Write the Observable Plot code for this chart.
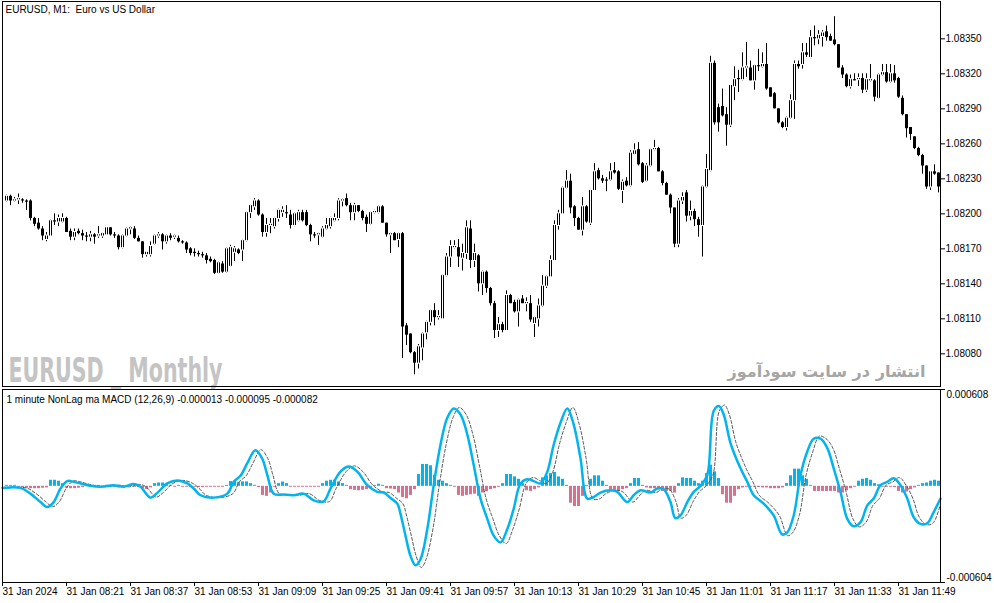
<!DOCTYPE html>
<html>
<head>
<meta charset="utf-8">
<script src="https://cdn.jsdelivr.net/npm/d3@7"></script>
<script src="https://cdn.jsdelivr.net/npm/@observablehq/plot@0.6"></script>
<style>
  html, body { margin: 0; padding: 0; background: #fff; }
  #chart { width: 994px; height: 603px; overflow: hidden; }
  #chart svg { display: block; }
</style>
</head>
<body>
<div id="chart"></div>
<script>
// ---------- texts ----------
const chartTitle = "EURUSD, M1:\u00a0 Euro vs US Dollar";
const indicatorTitle = "1 minute NonLag ma MACD (12,26,9) -0.000013 -0.000095 -0.000082";
const watermarkLeft = "EURUSD _ Monthly";
const watermarkRight = "انتشار در سایت سودآموز";

// ---------- axes ----------
const tickBars = [-1, 15, 31, 47, 63, 79, 95, 111, 127, 143, 159, 175, 191, 207, 223];
const tickLabels = ["31 Jan 2024", "31 Jan 08:21", "31 Jan 08:37", "31 Jan 08:53", "31 Jan 09:09",
  "31 Jan 09:25", "31 Jan 09:41", "31 Jan 09:57", "31 Jan 10:13", "31 Jan 10:29", "31 Jan 10:45",
  "31 Jan 11:01", "31 Jan 11:17", "31 Jan 11:33", "31 Jan 11:49"];
const priceTicks = [1.0835, 1.0832, 1.0829, 1.0826, 1.0823, 1.082, 1.0817, 1.0814, 1.0811, 1.0808];
const macdTicks = [0.000608, -0.000604];

// ---------- candles (M1 bars, one per minute) ----------
const open = [
1.08211,1.08215,1.08211,1.08212,1.08212,1.08211,1.08211,1.08196,1.08192,1.08187,
1.08178,1.08181,1.08194,1.08193,1.08193,1.08196,1.08185,1.08180,1.08185,1.08183,
1.08181,1.08180,1.08182,1.08181,1.08181,1.08182,1.08188,1.08182,1.08181,1.08171,
1.08181,1.08187,1.08187,1.08179,1.08176,1.08165,1.08165,1.08174,1.08181,1.08182,
1.08176,1.08181,1.08180,1.08179,1.08176,1.08175,1.08170,1.08167,1.08166,1.08165,
1.08164,1.08161,1.08160,1.08149,1.08157,1.08150,1.08155,1.08167,1.08169,1.08169,
1.08177,1.08201,1.08206,1.08211,1.08199,1.08184,1.08190,1.08189,1.08196,1.08201,
1.08201,1.08199,1.08190,1.08194,1.08201,1.08201,1.08190,1.08182,1.08182,1.08180,
1.08187,1.08189,1.08194,1.08196,1.08211,1.08213,1.08207,1.08201,1.08207,1.08202,
1.08197,1.08191,1.08201,1.08201,1.08206,1.08192,1.08182,1.08183,1.08178,1.08183,
1.08104,1.08097,1.08081,1.08072,1.08085,1.08098,1.08107,1.08117,1.08111,1.08110,
1.08147,1.08163,1.08171,1.08171,1.08162,1.08166,1.08187,1.08160,1.08164,1.08140,
1.08150,1.08136,1.08123,1.08100,1.08105,1.08100,1.08130,1.08124,1.08116,1.08127,
1.08123,1.08123,1.08106,1.08110,1.08121,1.08138,1.08146,1.08160,1.08190,1.08200,
1.08222,1.08228,1.08206,1.08196,1.08186,1.08206,1.08192,1.08220,1.08237,1.08230,
1.08229,1.08229,1.08237,1.08236,1.08220,1.08228,1.08224,1.08251,1.08255,1.08243,
1.08228,1.08241,1.08255,1.08256,1.08236,1.08226,1.08216,1.08205,1.08174,1.08211,
1.08218,1.08198,1.08202,1.08195,1.08190,1.08223,1.08237,1.08329,1.08291,1.08292,
1.08285,1.08276,1.08309,1.08316,1.08315,1.08325,1.08325,1.08314,1.08327,1.08326,
1.08328,1.08308,1.08303,1.08290,1.08278,1.08274,1.08282,1.08297,1.08328,1.08328,
1.08338,1.08334,1.08351,1.08350,1.08352,1.08356,1.08352,1.08349,1.08345,1.08325,
1.08319,1.08309,1.08315,1.08315,1.08316,1.08306,1.08314,1.08314,1.08299,1.08319,
1.08321,1.08313,1.08320,1.08316,1.08299,1.08285,1.08274,1.08266,1.08256,1.08250,
1.08241,1.08223,1.08236,1.08235];
const high = [
1.08216,1.08216,1.08214,1.08217,1.08213,1.08212,1.08212,1.08197,1.08196,1.08189,
1.08184,1.08195,1.08200,1.08199,1.08200,1.08197,1.08187,1.08187,1.08187,1.08186,
1.08184,1.08185,1.08183,1.08189,1.08184,1.08188,1.08188,1.08184,1.08182,1.08182,
1.08188,1.08189,1.08189,1.08181,1.08176,1.08167,1.08176,1.08182,1.08184,1.08183,
1.08182,1.08183,1.08182,1.08181,1.08177,1.08176,1.08171,1.08170,1.08168,1.08167,
1.08166,1.08163,1.08161,1.08159,1.08159,1.08171,1.08173,1.08172,1.08170,1.08178,
1.08202,1.08208,1.08213,1.08212,1.08200,1.08196,1.08196,1.08197,1.08204,1.08206,
1.08207,1.08203,1.08201,1.08203,1.08203,1.08203,1.08191,1.08184,1.08184,1.08189,
1.08196,1.08197,1.08200,1.08213,1.08213,1.08217,1.08209,1.08209,1.08207,1.08203,
1.08199,1.08202,1.08203,1.08207,1.08207,1.08192,1.08184,1.08184,1.08184,1.08184,
1.08106,1.08097,1.08082,1.08088,1.08098,1.08108,1.08118,1.08123,1.08117,1.08148,
1.08166,1.08177,1.08177,1.08178,1.08174,1.08194,1.08194,1.08174,1.08165,1.08151,
1.08151,1.08137,1.08125,1.08111,1.08107,1.08134,1.08131,1.08126,1.08127,1.08130,
1.08128,1.08130,1.08112,1.08127,1.08147,1.08147,1.08164,1.08194,1.08203,1.08223,
1.08237,1.08234,1.08207,1.08197,1.08214,1.08207,1.08221,1.08243,1.08239,1.08233,
1.08231,1.08243,1.08244,1.08237,1.08229,1.08231,1.08254,1.08260,1.08261,1.08244,
1.08243,1.08256,1.08263,1.08257,1.08237,1.08227,1.08217,1.08205,1.08213,1.08218,
1.08220,1.08211,1.08204,1.08197,1.08224,1.08251,1.08335,1.08331,1.08294,1.08307,
1.08291,1.08310,1.08326,1.08323,1.08338,1.08347,1.08331,1.08328,1.08341,1.08338,
1.08346,1.08308,1.08304,1.08290,1.08279,1.08283,1.08302,1.08331,1.08331,1.08346,
1.08346,1.08357,1.08361,1.08357,1.08357,1.08361,1.08354,1.08369,1.08345,1.08327,
1.08320,1.08319,1.08320,1.08320,1.08320,1.08320,1.08328,1.08315,1.08320,1.08328,
1.08328,1.08328,1.08327,1.08317,1.08301,1.08285,1.08274,1.08266,1.08257,1.08251,
1.08241,1.08236,1.08242,1.08235];
const low = [
1.08210,1.08207,1.08210,1.08208,1.08209,1.08203,1.08194,1.08189,1.08186,1.08177,
1.08176,1.08181,1.08190,1.08189,1.08192,1.08184,1.08177,1.08177,1.08182,1.08177,
1.08176,1.08176,1.08174,1.08179,1.08179,1.08182,1.08181,1.08179,1.08169,1.08170,
1.08180,1.08182,1.08178,1.08176,1.08162,1.08163,1.08163,1.08173,1.08179,1.08169,
1.08174,1.08177,1.08178,1.08175,1.08174,1.08166,1.08164,1.08163,1.08163,1.08162,
1.08157,1.08158,1.08148,1.08148,1.08149,1.08149,1.08154,1.08159,1.08165,1.08159,
1.08176,1.08196,1.08203,1.08198,1.08180,1.08180,1.08183,1.08187,1.08193,1.08197,
1.08196,1.08187,1.08189,1.08193,1.08193,1.08189,1.08176,1.08179,1.08173,1.08179,
1.08186,1.08187,1.08193,1.08194,1.08206,1.08206,1.08194,1.08194,1.08201,1.08194,
1.08184,1.08190,1.08200,1.08200,1.08192,1.08180,1.08166,1.08177,1.08171,1.08076,
1.08087,1.08080,1.08062,1.08067,1.08074,1.08092,1.08104,1.08104,1.08109,1.08110,
1.08146,1.08154,1.08170,1.08154,1.08151,1.08161,1.08153,1.08154,1.08133,1.08130,
1.08132,1.08121,1.08093,1.08094,1.08098,1.08100,1.08123,1.08115,1.08103,1.08123,
1.08116,1.08107,1.08094,1.08103,1.08120,1.08136,1.08146,1.08160,1.08186,1.08200,
1.08221,1.08200,1.08189,1.08186,1.08181,1.08192,1.08190,1.08220,1.08229,1.08226,
1.08219,1.08228,1.08234,1.08220,1.08209,1.08223,1.08223,1.08250,1.08241,1.08226,
1.08227,1.08240,1.08254,1.08236,1.08224,1.08216,1.08200,1.08171,1.08171,1.08208,
1.08193,1.08194,1.08189,1.08180,1.08163,1.08222,1.08236,1.08276,1.08270,1.08283,
1.08258,1.08274,1.08297,1.08304,1.08314,1.08317,1.08314,1.08306,1.08322,1.08325,
1.08306,1.08300,1.08290,1.08277,1.08273,1.08271,1.08281,1.08281,1.08324,1.08324,
1.08334,1.08333,1.08344,1.08345,1.08343,1.08348,1.08348,1.08344,1.08325,1.08316,
1.08308,1.08307,1.08314,1.08309,1.08303,1.08304,1.08313,1.08296,1.08298,1.08318,
1.08312,1.08312,1.08312,1.08299,1.08284,1.08265,1.08263,1.08255,1.08249,1.08234,
1.08221,1.08220,1.08233,1.08218];
const close = [
1.08215,1.08211,1.08212,1.08213,1.08211,1.08210,1.08196,1.08191,1.08187,1.08181,
1.08181,1.08194,1.08193,1.08196,1.08196,1.08184,1.08180,1.08184,1.08183,1.08181,
1.08180,1.08182,1.08180,1.08182,1.08183,1.08188,1.08182,1.08181,1.08171,1.08181,
1.08187,1.08188,1.08179,1.08176,1.08165,1.08167,1.08172,1.08181,1.08182,1.08176,
1.08181,1.08179,1.08181,1.08176,1.08175,1.08169,1.08166,1.08166,1.08165,1.08164,
1.08160,1.08159,1.08149,1.08158,1.08150,1.08170,1.08171,1.08170,1.08166,1.08177,
1.08201,1.08207,1.08211,1.08199,1.08184,1.08190,1.08191,1.08196,1.08203,1.08203,
1.08200,1.08190,1.08200,1.08201,1.08194,1.08190,1.08182,1.08181,1.08183,1.08187,
1.08190,1.08196,1.08196,1.08211,1.08212,1.08207,1.08201,1.08207,1.08202,1.08196,
1.08191,1.08201,1.08202,1.08206,1.08192,1.08182,1.08183,1.08177,1.08183,1.08103,
1.08096,1.08081,1.08072,1.08086,1.08097,1.08107,1.08117,1.08111,1.08112,1.08147,
1.08163,1.08172,1.08172,1.08163,1.08166,1.08188,1.08160,1.08166,1.08140,1.08150,
1.08136,1.08123,1.08100,1.08105,1.08100,1.08130,1.08123,1.08116,1.08126,1.08123,
1.08124,1.08109,1.08111,1.08121,1.08138,1.08146,1.08160,1.08190,1.08200,1.08222,
1.08228,1.08205,1.08196,1.08186,1.08206,1.08193,1.08220,1.08236,1.08230,1.08228,
1.08228,1.08236,1.08235,1.08221,1.08227,1.08224,1.08252,1.08254,1.08242,1.08227,
1.08241,1.08255,1.08256,1.08236,1.08226,1.08216,1.08205,1.08174,1.08211,1.08214,
1.08198,1.08202,1.08195,1.08190,1.08223,1.08238,1.08329,1.08278,1.08278,1.08284,
1.08276,1.08310,1.08315,1.08315,1.08325,1.08326,1.08314,1.08327,1.08326,1.08328,
1.08307,1.08300,1.08290,1.08278,1.08274,1.08282,1.08297,1.08328,1.08326,1.08338,
1.08336,1.08351,1.08350,1.08353,1.08355,1.08351,1.08348,1.08345,1.08325,1.08319,
1.08309,1.08315,1.08314,1.08316,1.08306,1.08315,1.08315,1.08300,1.08319,1.08321,
1.08313,1.08320,1.08314,1.08300,1.08285,1.08273,1.08268,1.08256,1.08250,1.08241,
1.08223,1.08236,1.08234,1.08223];

// ---------- NonLag MACD indicator ----------
const histogram = [
6e-6,6e-6,6e-6,-6e-6,-8e-6,-12e-6,-15e-6,-15e-6,-15e-6,-12e-6,
-10e-6,38e-6,38e-6,32e-6,17e-6,-12e-6,-15e-6,-15e-6,-12e-6,-8e-6,
6e-6,-6e-6,6e-6,6e-6,-6e-6,6e-6,-6e-6,-6e-6,-10e-6,-6e-6,
6e-6,6e-6,-6e-6,-8e-6,-15e-6,-20e-6,-10e-6,17e-6,21e-6,21e-6,
13e-6,6e-6,-6e-6,6e-6,-6e-6,-6e-6,-6e-6,-6e-6,-8e-6,-8e-6,
-6e-6,-6e-6,-6e-6,-6e-6,-6e-6,6e-6,30e-6,32e-6,23e-6,28e-6,
28e-6,17e-6,6e-6,-8e-6,-57e-6,-63e-6,-42e-6,-6e-6,17e-6,27e-6,
17e-6,-6e-6,-6e-6,-6e-6,-6e-6,-6e-6,-6e-6,-6e-6,-6e-6,17e-6,
32e-6,38e-6,38e-6,28e-6,17e-6,6e-6,-21e-6,-25e-6,-28e-6,-25e-6,
-21e-6,-10e-6,6e-6,13e-6,6e-6,-15e-6,-17e-6,-21e-6,-42e-6,-70e-6,
-78e-6,-57e-6,-21e-6,74e-6,137e-6,137e-6,129e-6,70e-6,38e-6,32e-6,
17e-6,6e-6,-6e-6,-57e-6,-63e-6,-57e-6,-53e-6,-49e-6,-63e-6,-42e-6,
-34e-6,-21e-6,-15e-6,-6e-6,17e-6,74e-6,74e-6,59e-6,44e-6,17e-6,
-28e-6,-32e-6,-21e-6,-10e-6,53e-6,66e-6,80e-6,87e-6,59e-6,44e-6,
6e-6,-106e-6,-127e-6,-127e-6,-63e-6,6e-6,44e-6,66e-6,66e-6,32e-6,
6e-6,-21e-6,-32e-6,-32e-6,-21e-6,-15e-6,17e-6,49e-6,49e-6,6e-6,
-10e-6,-15e-6,-15e-6,-21e-6,-32e-6,-32e-6,-32e-6,-42e-6,17e-6,53e-6,
49e-6,49e-6,32e-6,17e-6,32e-6,80e-6,133e-6,91e-6,49e-6,-53e-6,
-106e-6,-106e-6,-63e-6,-21e-6,-10e-6,-6e-6,-6e-6,-6e-6,-8e-6,-10e-6,
-10e-6,-15e-6,-15e-6,-15e-6,-10e-6,17e-6,66e-6,108e-6,108e-6,66e-6,
44e-6,6e-6,-32e-6,-32e-6,-32e-6,-32e-6,-32e-6,-32e-6,-42e-6,-42e-6,
-28e-6,-15e-6,-6e-6,32e-6,44e-6,49e-6,38e-6,17e-6,10e-6,-6e-6,
-6e-6,-6e-6,-8e-6,-32e-6,-42e-6,-36e-6,-21e-6,-10e-6,6e-6,17e-6,
21e-6,32e-6,38e-6,32e-6];

// MACD line: [bar, value]
const macdLine = [
[-1,-10e-6],[3.5,-10e-6],[6,-46e-6],[8.5,-99e-6],[10.2,-130e-6],[11.8,-99e-6],[13.5,-14e-6],[15.2,33e-6],
[16.8,28e-6],[18.5,18e-6],[21,3e-6],[23.5,-3e-6],[26.8,7e-6],[29.3,-3e-6],[31.8,14e-6],[33.5,-3e-6],
[36,-71e-6],[37.7,-41e-6],[40.2,18e-6],[42.7,37e-6],[45.2,18e-6],[46.8,-14e-6],[48.5,-56e-6],[51.8,-71e-6],
[55.2,-46e-6],[56.8,28e-6],[58.5,66e-6],[60.2,145e-6],[62.2,227e-6],[63.9,176e-6],[65.2,71e-6],[66.8,-46e-6],
[69.3,-52e-6],[71.8,-56e-6],[74.3,-46e-6],[76.8,-88e-6],[79.3,-94e-6],[81,-14e-6],[83.5,92e-6],[85.6,124e-6],
[87.7,92e-6],[90.2,7e-6],[92.7,-35e-6],[94.3,-39e-6],[96,-73e-6],[97.7,-109e-6],[98.5,-173e-6],[99.75,-310e-6],
[101,-437e-6],[102.25,-496e-6],[103.5,-458e-6],[105.2,-268e-6],[106.8,7e-6],[108.5,261e-6],[110.2,430e-6],[111.8,489e-6],
[113.5,451e-6],[115.2,325e-6],[116.8,134e-6],[118.5,-77e-6],[120.2,-204e-6],[121.8,-310e-6],[123.5,-352e-6],[125.2,-268e-6],
[126.8,-141e-6],[128.5,18e-6],[130.2,45e-6],[131.8,33e-6],[133.5,18e-6],[135.2,92e-6],[136.8,261e-6],[138.5,399e-6],
[140.2,489e-6],[141.8,388e-6],[143.5,176e-6],[145.2,-77e-6],[146.8,-67e-6],[148.5,-39e-6],[151,-25e-6],[152.7,-35e-6],
[155.2,-99e-6],[156.8,-56e-6],[158.5,-25e-6],[161,-39e-6],[162.7,-14e-6],[164.3,-18e-6],[166,-99e-6],[167.2,-200e-6],
[168.5,-183e-6],[170.2,-99e-6],[171.8,-35e-6],[173.5,3e-6],[175.2,71e-6],[176.8,473e-6],[178.1,504e-6],[179.3,451e-6],
[181,272e-6],[183.5,113e-6],[185.2,28e-6],[186.8,-56e-6],[189.3,-109e-6],[191.8,-183e-6],[193.9,-302e-6],[195.2,-289e-6],
[196.8,-183e-6],[198.5,71e-6],[200.2,219e-6],[201.8,299e-6],[203.5,299e-6],[205.2,240e-6],[206.8,113e-6],[208.5,-35e-6],
[210.2,-204e-6],[211.8,-251e-6],[213.5,-225e-6],[215.2,-120e-6],[216.8,-77e-6],[218.5,7e-6],[220.2,28e-6],[221.8,50e-6],
[223.5,7e-6],[225.2,-77e-6],[226.8,-194e-6],[228.5,-236e-6],[230.2,-232e-6],[231.8,-162e-6],[233.5,-77e-6]];

// Signal line (dashed): [bar, value]
const signalLine = [
[0.4,-10e-6],[4.9,-10e-6],[7.4,-46e-6],[9.9,-99e-6],[11.6,-128e-6],[13.2,-97e-6],[14.9,-14e-6],[16.6,33e-6],
[18.2,30e-6],[19.9,18e-6],[22.4,3e-6],[24.9,-3e-6],[28.2,7e-6],[30.7,-3e-6],[33.2,12e-6],[34.9,-3e-6],
[37.4,-68e-6],[39.1,-41e-6],[41.6,18e-6],[44.1,37e-6],[46.6,18e-6],[48.2,-14e-6],[49.9,-56e-6],[53.2,-71e-6],
[56.6,-46e-6],[58.2,28e-6],[59.9,66e-6],[61.6,145e-6],[63.6,230e-6],[65.3,176e-6],[66.6,71e-6],[68.2,-46e-6],
[70.7,-52e-6],[73.2,-56e-6],[75.7,-46e-6],[78.2,-88e-6],[80.7,-96e-6],[82.4,-14e-6],[84.9,92e-6],[87,128e-6],
[89.1,92e-6],[91.6,7e-6],[94.1,-35e-6],[95.7,-39e-6],[97.4,-73e-6],[99.1,-109e-6],[99.9,-173e-6],[101.2,-310e-6],
[102.4,-437e-6],[103.7,-510e-6],[104.9,-458e-6],[106.6,-268e-6],[108.2,7e-6],[109.9,261e-6],[111.6,430e-6],[113.2,495e-6],
[114.9,451e-6],[116.6,325e-6],[118.2,134e-6],[119.9,-77e-6],[121.6,-204e-6],[123.2,-310e-6],[124.9,-360e-6],[126.6,-268e-6],
[128.2,-141e-6],[129.9,18e-6],[131.6,55e-6],[133.2,38e-6],[134.9,18e-6],[136.6,92e-6],[138.2,261e-6],[139.9,399e-6],
[141.6,495e-6],[143.2,388e-6],[144.9,176e-6],[146.6,-77e-6],[148.2,-80e-6],[149.9,-45e-6],[152.4,-25e-6],[154.1,-35e-6],
[156.6,-99e-6],[158.2,-60e-6],[159.9,-25e-6],[162.4,-39e-6],[164.1,-14e-6],[165.7,-18e-6],[167.4,-99e-6],[168.6,-200e-6],
[169.9,-183e-6],[171.6,-99e-6],[173.2,-35e-6],[174.9,3e-6],[176.6,71e-6],[178.2,473e-6],[179.5,510e-6],[180.7,451e-6],
[182.4,272e-6],[184.9,113e-6],[186.6,28e-6],[188.2,-56e-6],[190.7,-109e-6],[193.2,-183e-6],[195.3,-310e-6],[196.6,-289e-6],
[198.2,-183e-6],[199.9,71e-6],[201.6,219e-6],[203.2,315e-6],[204.9,299e-6],[206.6,240e-6],[208.2,113e-6],[209.9,-35e-6],
[211.6,-204e-6],[213.2,-255e-6],[214.9,-225e-6],[216.6,-120e-6],[218.2,-77e-6],[219.9,7e-6],[221.6,28e-6],[223.2,55e-6],
[224.9,7e-6],[226.6,-77e-6],[228.2,-194e-6],[229.9,-240e-6],[231.6,-232e-6],[233.5,-110e-6]];

// ---------- build ----------
const BLUE = "#00b4f0", PINK = "#d8708f";
const FONT = "'Liberation Sans', Arial, sans-serif";
const xDomain = [-1, 233.5];
const bars = open.map((o, i) => ({i, o, h: high[i], l: low[i], c: close[i]}));
const bullBars = bars.filter(d => d.c > d.o);
const hist = histogram.map((v, i) => ({i, v}));
const labelOf = new Map(tickBars.map((b, k) => [b, tickLabels[k]]));
const baseStyle = {fontFamily: FONT, fontSize: "10px", color: "#000", background: "#fff", overflow: "visible"};

const mainPanel = Plot.plot({
  width: 994, height: 388,
  marginTop: 1, marginRight: 54, marginBottom: 2, marginLeft: 2,
  style: baseStyle,
  x: {domain: xDomain, axis: null},
  y: {domain: [1.08052, 1.08382]},
  color: {type: "identity"},
  marks: [
    Plot.axisY({anchor: "right", ticks: priceTicks, tickFormat: d => d.toFixed(5), tickSize: 4, tickPadding: 1, label: null}),
    // wicks
    Plot.ruleX(bars, {x: "i", y1: "l", y2: "h", stroke: "#000", strokeWidth: 1}),
    // bodies: 3px black block, hollowed for rising candles
    Plot.ruleX(bars, {x: "i", y1: "o", y2: "c", stroke: "#000", strokeWidth: 3}),
    Plot.ruleX(bullBars, {x: "i", y1: "o", y2: "c", stroke: "#fff", strokeWidth: 1, insetTop: 1, insetBottom: 1}),
    Plot.text([chartTitle], {text: d => d, frameAnchor: "top-left", dx: 3, dy: 8, lineAnchor: "middle", textAnchor: "start", fontSize: 10, fill: "#000"}),
    Plot.text([watermarkLeft], {text: d => d, frameAnchor: "bottom-left", dx: 6, dy: -5, lineAnchor: "bottom", textAnchor: "start",
      fontSize: 33, fontWeight: "bold", fontFamily: "'DejaVu Sans Condensed', 'DejaVu Sans', sans-serif", fill: "#c4c4c4"}),
    Plot.text([watermarkRight], {text: d => d, frameAnchor: "bottom-left", dx: 725, dy: -10, lineAnchor: "bottom", textAnchor: "start",
      fontSize: 21, fontWeight: "bold", fontFamily: "'DejaVu Sans', sans-serif", fill: "#a6a6a6"}),
    Plot.frame({stroke: "#000"})
  ]
});

const indPanel = Plot.plot({
  width: 994, height: 215,
  marginTop: 1, marginRight: 54, marginBottom: 21, marginLeft: 2,
  style: baseStyle,
  x: {domain: xDomain},
  y: {domain: [-0.000604, 0.000608]},
  color: {type: "identity"},
  marks: [
    Plot.ruleX(hist, {x: "i", y1: 0, y2: "v", stroke: d => d.v >= 0 ? BLUE : PINK, strokeWidth: 3}),
    Plot.line(signalLine, {x: d => d[0], y: d => d[1], stroke: "#555", strokeWidth: 1, strokeDasharray: "3,2", curve: "catmull-rom"}),
    Plot.line(macdLine, {x: d => d[0], y: d => d[1], stroke: BLUE, strokeWidth: 2.5, curve: "catmull-rom"}),
    Plot.axisX({ticks: tickBars, tickFormat: d => labelOf.get(d), tickSize: 4, tickPadding: 1, textAnchor: "start", label: null}),
    Plot.axisY({anchor: "right", ticks: macdTicks, tickSize: 4, tickFormat: () => "", label: null}),
    Plot.text([macdTicks[0]], {x: xDomain[1], y: d => d, text: d => d.toFixed(6), dx: 6, dy: 5, textAnchor: "start", lineAnchor: "middle", fill: "#000"}),
    Plot.text([macdTicks[1]], {x: xDomain[1], y: d => d, text: d => d.toFixed(6), dx: 6, dy: -5, textAnchor: "start", lineAnchor: "middle", fill: "#000"}),
    Plot.text([indicatorTitle], {text: d => d, frameAnchor: "top-left", dx: 4, dy: 10, lineAnchor: "middle", textAnchor: "start", fill: "#000"}),
    Plot.frame({stroke: "#000"})
  ]
});

document.getElementById("chart").append(mainPanel, indPanel);

// fit the watermark texts to their widths in the reference
function fitText(svg, content, targetWidth, maxSize, shrinkFont) {
  for (const t of svg.querySelectorAll("text")) {
    if (t.textContent !== content) continue;
    const natural = t.getComputedTextLength();
    if (shrinkFont && natural > targetWidth) t.setAttribute("font-size", (maxSize * targetWidth / natural).toFixed(2));
    t.setAttribute("textLength", String(targetWidth));
    t.setAttribute("lengthAdjust", "spacingAndGlyphs");
  }
}
fitText(mainPanel, watermarkRight, 198, 21, true);
fitText(mainPanel, watermarkLeft, 214, 33, false);
</script>
</body>
</html>
